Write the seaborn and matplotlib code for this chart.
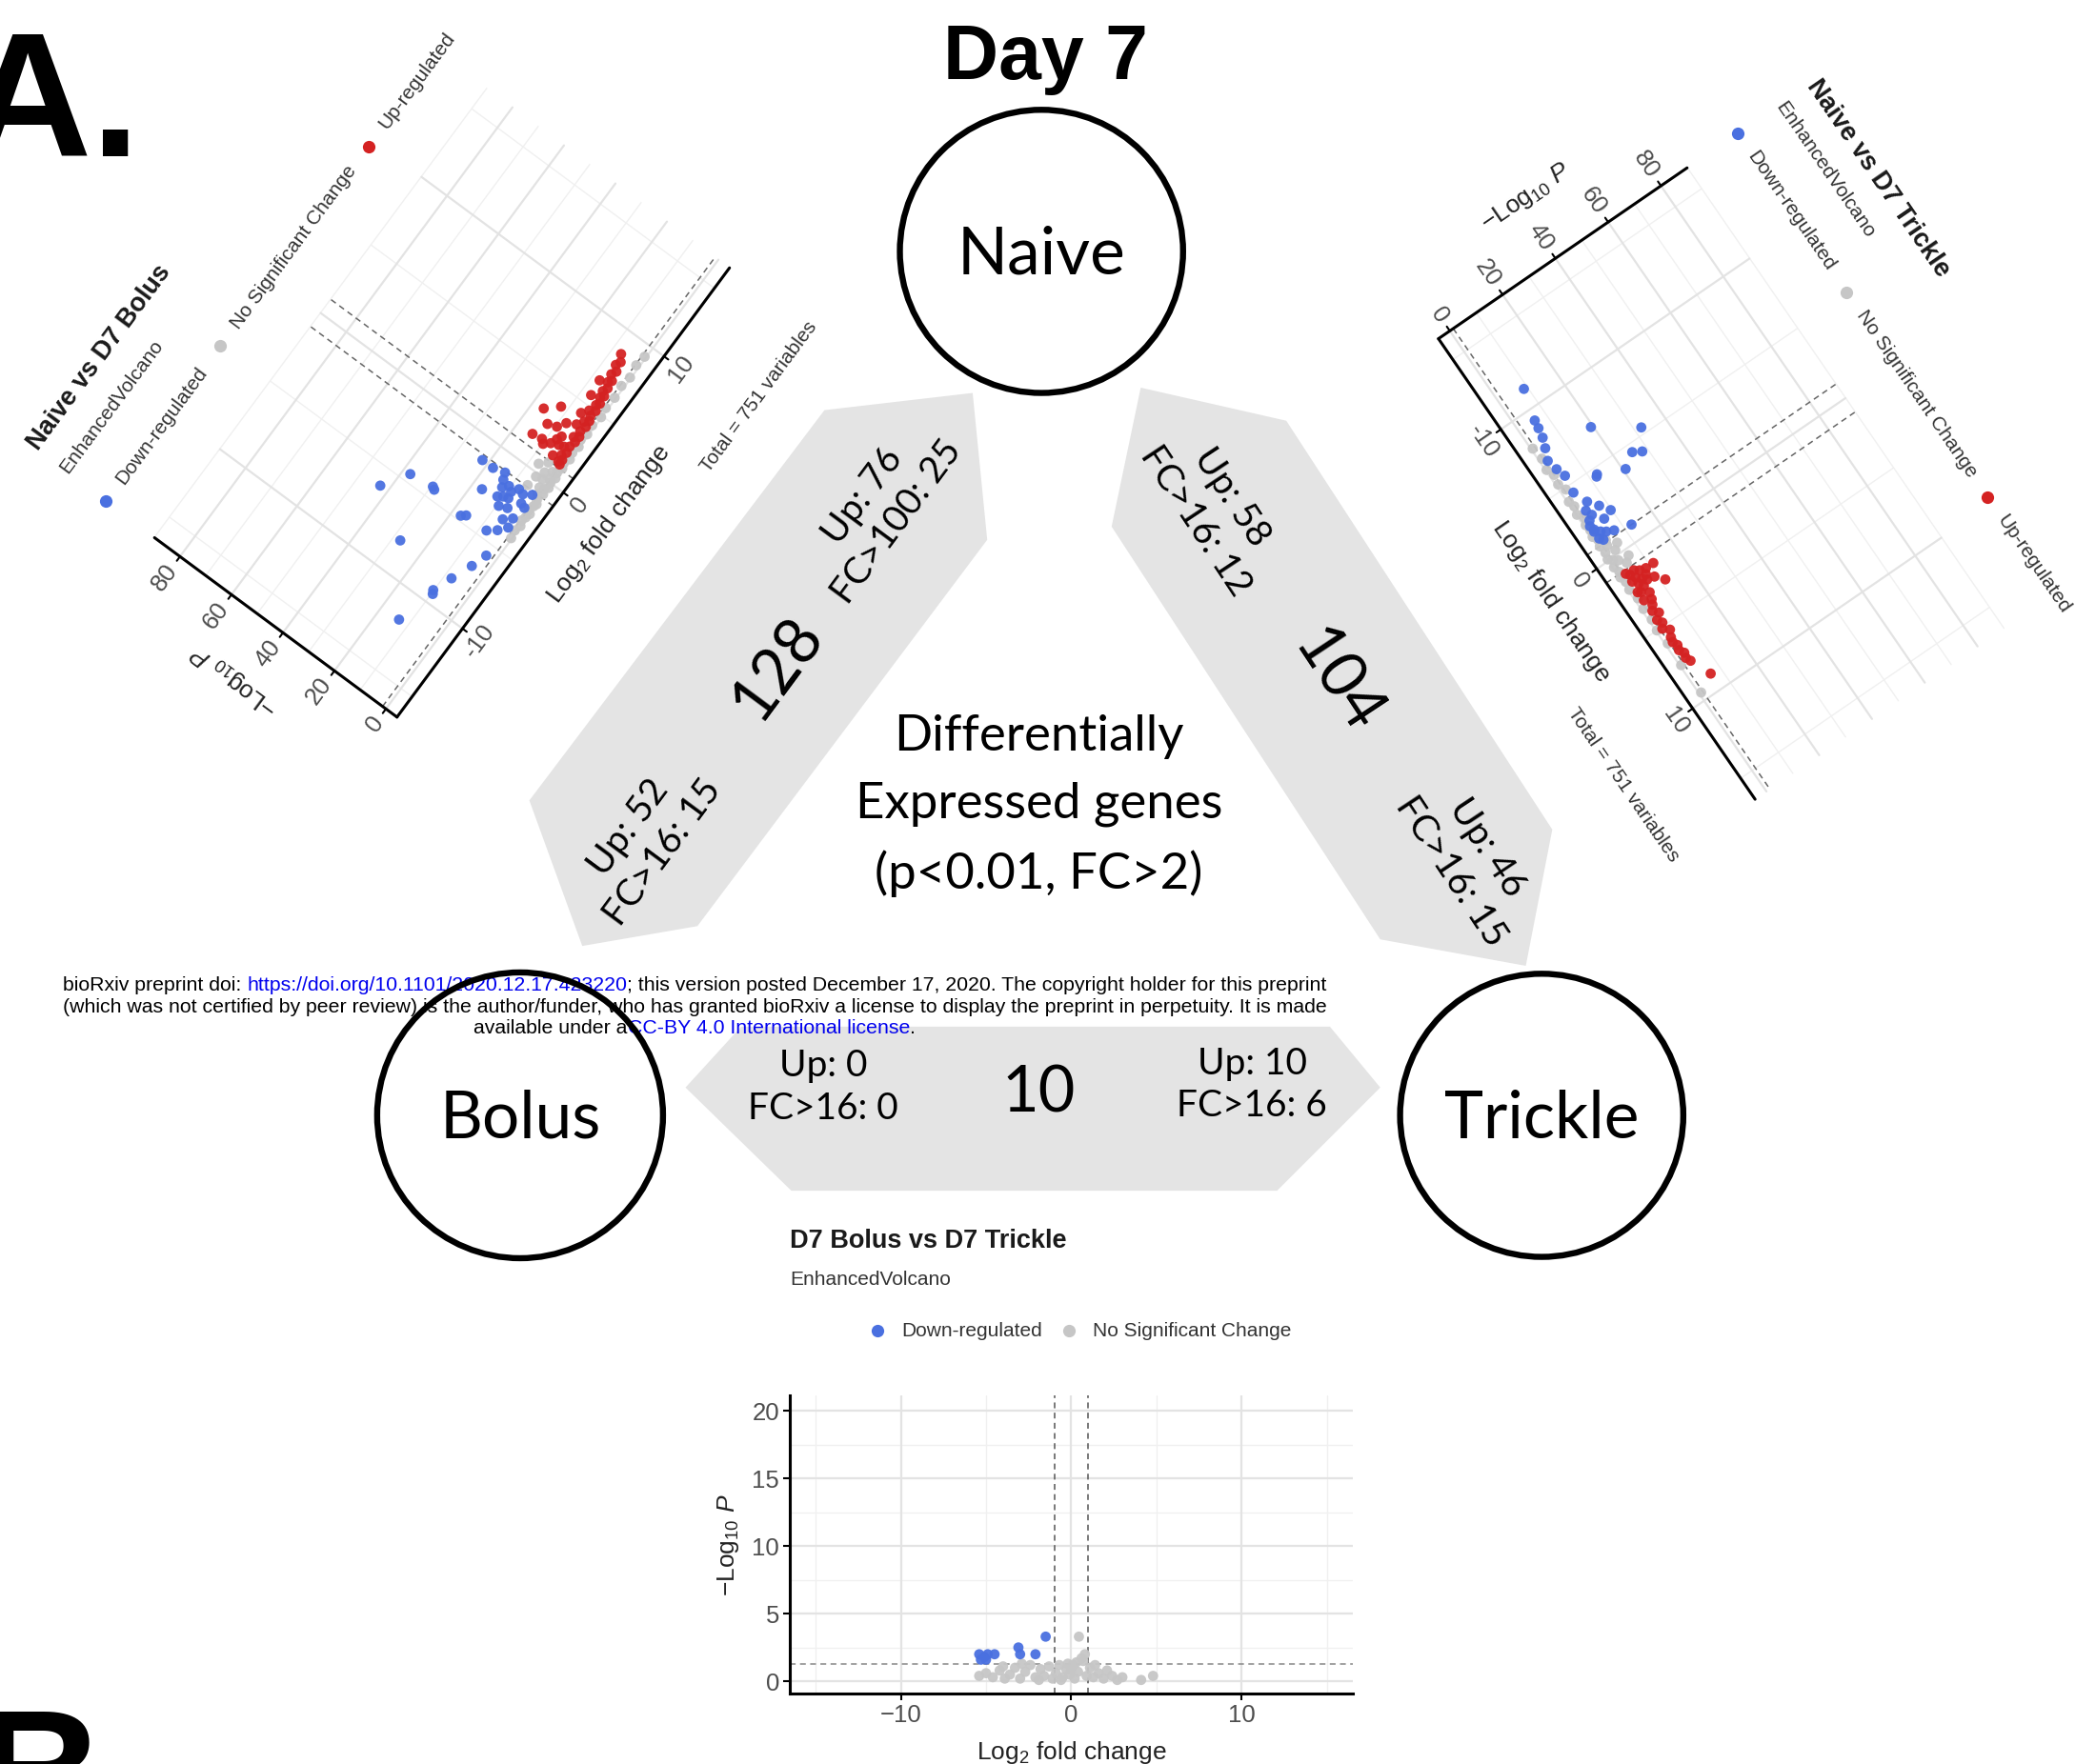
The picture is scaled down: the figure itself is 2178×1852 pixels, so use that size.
import numpy as np
import pandas as pd
import matplotlib
matplotlib.use("Agg")
import matplotlib.pyplot as plt
import seaborn as sns
from matplotlib.patches import Polygon, Circle
from matplotlib.transforms import Affine2D

# ---------------- data ----------------
groups = ["No Significant Change", "Down-regulated", "Up-regulated"]

# Naive vs D7 Bolus
tl_down_x = [-6.1, -4.5, -4.4, -4.3, -8.0, -11.8, -9.4, -9.2, -8.0, -6.7, -5.7, -4.5, -4.1, -4.7, -4.5,
             -2.7, -1.3, -1.3, -2.7, -2.2, -1.4, -1.6, -1.9, -2.3, -1.5, -2.0, -3.0, -1.2, -2.5, -1.8,
             -3.4, -1.1, -1.5, -2.9, -3.6, -2.1]
tl_down_y = [42.9, 37.5, 28.6, 29.5, 27.7, 13.3, 9.6, 10.2, 7.8, 5.0, 3.3, 7.9, 5.2, 17.1, 15.8,
             16.7, 22.0, 17.9, 6.8, 8.4, 7.4, 10.5, 12.0, 10.0, 5.5, 4.2, 3.5, 3.0, 11.5, 8.9,
             5.9, 14.0, 13.1, 9.4, 3.0, 2.6]
tl_up_x = [8.6, 8.2, 7.9, 7.6, 7.3, 7.0, 6.8, 6.5, 6.2, 6.0, 5.8, 5.5, 5.3, 5.0, 4.8, 4.6, 4.3, 4.1,
           3.9, 3.7, 3.5, 3.3, 4.0, 2.7, 1.7, 3.2, 3.0, 2.8, 2.6, 2.4, 2.2, 2.0, 1.9, 1.7, 1.5, 1.4,
           1.3, 1.2, 2.9, 2.3, 1.6, 1.8, 2.1, 3.4, 4.4, 5.6, 6.6]
tl_up_y = [6.9, 5.5, 6.2, 4.8, 5.6, 4.2, 5.0, 3.9, 4.6, 3.3, 4.1, 3.0, 3.7, 2.7, 4.4, 3.1, 2.4, 3.6,
           2.2, 5.0, 2.8, 16.2, 12.2, 12.4, 14.3, 2.0, 3.4, 2.1, 6.5, 2.6, 4.0, 2.2, 8.0, 3.1, 2.0, 5.2,
           2.7, 1.8, 9.5, 7.2, 9.8, 11.0, 5.6, 7.8, 6.0, 6.8, 7.4]
tl_ns_x = [-4.0, -3.5, -3.1, -2.8, -2.5, -2.2, -2.0, -1.7, -1.5, -1.3, -1.0, -0.8, -0.6, -0.5, -0.3,
           -0.1, 0.0, 0.2, 0.3, 0.4, 0.6, 0.7, 0.9, 1.1, 1.4, 1.8, 2.2, 2.7, 3.1, 3.6, 4.2, 4.9, 5.5,
           6.3, 7.1, 7.8, 8.6, 9.3, -0.9, 0.5, -0.2]
tl_ns_y = [0.3, 0.8, 0.2, 1.0, 0.5, 0.1, 1.2, 0.6, 0.2, 0.9, 1.8, 0.4, 2.6, 1.1, 0.2,
           3.4, 0.7, 1.5, 4.1, 0.3, 2.2, 0.9, 5.0, 0.4, 1.0, 0.2, 0.8, 0.3, 1.1, 0.5, 0.9, 0.2, 0.7,
           0.4, 0.9, 0.3, 1.0, 0.5, 6.0, 7.2, 5.5]

# Naive vs D7 Trickle
tr_down_x = [-11.2, -9.3, -8.8, -8.2, -7.6, -6.9, -7.1, -5.4, -4.5, -4.2, -3.9, -4.5, -4.6, -4.5, -3.2,
             -2.4, -1.0, -1.9, -1.2, -3.6, -2.8, -2.2, -1.5, -1.3, -2.6, -1.7, -3.0, -5.6, -6.2, -2.0,
             -1.4, -2.3]
tr_down_y = [8.8, 6.0, 5.6, 5.0, 3.8, 2.2, 19.3, 32.2, 25.5, 28.2, 20.8, 12.0, 12.5, 3.2, 3.2,
             9.7, 12.5, 1.6, 2.6, 5.1, 4.0, 6.5, 4.8, 7.0, 2.4, 3.3, 7.5, 4.0, 3.0, 2.0,
             1.7, 1.5]
tr_up_x = [1.6, 2.8, 2.1, 3.6, 5.8, 7.0, 8.9, 1.3, 1.5, 1.7, 1.9, 2.0, 2.2, 2.4, 1.4, 1.8, 2.6, 2.9,
           3.1, 3.3, 3.9, 4.2, 4.5, 4.8, 5.1, 5.4, 6.1, 6.4, 6.7, 7.3, 7.6, 1.2, 2.3, 1.6, 2.5]
tr_up_y = [11.3, 11.5, 3.9, 3.7, 2.7, 3.4, 6.5, 5.0, 6.5, 4.2, 7.4, 5.6, 6.8, 4.8, 3.2, 2.6, 3.0, 5.2,
           2.3, 4.5, 2.6, 4.0, 2.2, 3.1, 2.0, 3.8, 2.3, 3.0, 2.5, 2.9, 3.6, 2.3, 9.2, 8.5, 2.1]
tr_ns_x = [-8.0, -7.2, -6.5, -6.0, -5.4, -4.9, -4.2, -3.8, -3.3, -2.9, -2.5, -2.1, -1.7, -1.4, -1.0,
           -0.8, -0.5, -0.3, -0.1, 0.1, 0.3, 0.5, 0.7, 0.9, 1.2, 1.6, 2.1, 2.8, 3.5, 4.3, 5.0, -0.6,
           0.4, -1.1, 6.0, 7.5, 9.5]
tr_ns_y = [0.5, 1.1, 0.3, 1.4, 0.7, 1.8, 0.4, 1.0, 0.2, 1.6, 0.6, 0.9, 0.3, 1.2, 0.5,
           2.5, 0.8, 3.8, 0.2, 1.5, 2.8, 0.4, 4.5, 1.0, 0.3, 0.9, 0.4, 1.1, 0.6, 0.9, 0.3, 5.6,
           6.3, 3.1, 0.8, 0.4, 0.7]

# D7 Bolus vs D7 Trickle
bt_down_x = [-5.4, -5.3, -5.1, -5.0, -4.9, -4.5, -3.1, -3.0, -2.1, -1.5]
bt_down_y = [2.0, 1.6, 1.8, 1.6, 2.0, 2.0, 2.5, 2.0, 2.0, 3.3]
bt_ns_x = [0.45, 0.8, 0.6, 0.7, 4.1, 4.8, -5.4, -5.0, -4.6, -4.2, -3.9, -3.6, -3.3, -3.0, -2.7, -2.4,
           -2.1, -1.8, -1.6, -1.3, -1.1, -0.9, -0.7, -0.5, -0.3, -0.1, 0.1, 0.2, 0.4, 0.9, 1.1, 1.3,
           1.6, 1.9, 2.1, 2.4, 2.7, 3.0, -0.2, 0.0, -1.9, -4.0, -2.9, 0.3, 1.4, -0.6]
bt_ns_y = [3.3, 2.0, 1.7, 1.5, 0.1, 0.4, 0.4, 0.6, 0.3, 0.8, 0.2, 0.5, 1.0, 0.2, 0.7, 1.2,
           0.3, 0.9, 0.4, 1.1, 0.2, 0.6, 1.2, 0.3, 0.9, 0.5, 1.2, 0.2, 0.7, 0.4, 1.0, 0.3,
           0.6, 0.2, 0.8, 0.4, 0.1, 0.3, 1.3, 0.9, 0.1, 1.1, 1.3, 1.4, 1.2, 0.1]

x_major = [-10, 0, 10]
x_minor = [-15, -5, 5, 15]
top_y_major = [0, 20, 40, 60, 80]
top_y_minor = [10, 30, 50, 70, 90]
bot_y_major = [0, 5, 10, 15, 20]
bot_y_minor = [2.5, 7.5, 12.5, 17.5]

band_labels = {
    "left_top": "Up: 76\nFC>100: 25", "left_mid": "128", "left_bot": "Up: 52\nFC>16: 15",
    "right_top": "Up: 58\nFC>16: 12", "right_mid": "104", "right_bot": "Up: 46\nFC>16: 15",
    "bot_left": "Up: 0\nFC>16: 0", "bot_mid": "10", "bot_right": "Up: 10\nFC>16: 6",
}


def make_df(dx, dy, nx, ny, ux=(), uy=()):
    return pd.DataFrame({
        "log2fc": list(nx) + list(dx) + list(ux),
        "nlog10p": list(ny) + list(dy) + list(uy),
        "group": [groups[0]] * len(nx) + [groups[1]] * len(dx) + [groups[2]] * len(ux),
    })


df_tl = make_df(tl_down_x, tl_down_y, tl_ns_x, tl_ns_y, tl_up_x, tl_up_y)
df_tr = make_df(tr_down_x, tr_down_y, tr_ns_x, tr_ns_y, tr_up_x, tr_up_y)
df_bt = make_df(bt_down_x, bt_down_y, bt_ns_x, bt_ns_y)

# ---------------- style ----------------
sns.set_theme(style="white")
plt.rcParams["font.family"] = ["Liberation Sans", "DejaVu Sans"]
plt.rcParams["mathtext.fontset"] = "custom"
plt.rcParams["mathtext.rm"] = "Liberation Sans"
plt.rcParams["mathtext.it"] = "Liberation Sans:italic"
plt.rcParams["mathtext.bf"] = "Liberation Sans:bold"

PAL = {"Down-regulated": "#4a70e0", "No Significant Change": "#c6c6c6", "Up-regulated": "#d42222"}
GRID_MAJ = "#e3e3e3"
GRID_MIN = "#f0f0f0"
TICK_COL = "#4d4d4d"
BAND = "#e4e4e4"
DIAG = ["Lato", "DejaVu Sans"]
TICK_FS = 18.5
LAB_FS = 19
TITLE_FS = 19.5
SUB_FS = 15

W, H = 2178, 1852
K = W / 1568.0
fig = plt.figure(figsize=(W / 100, H / 100), dpi=100)
ax0 = fig.add_axes([0, 0, 1, 1])
ax0.set_xlim(0, W)
ax0.set_ylim(0, H)
ax0.set_autoscale_on(False)
ax0.axis("off")


def M(x, y):
    return (x * K, H - y * K)


XMIN, XMAX = -16.5, 16.5
SX = 12.8          # px per log2FC unit (reference scale)
YMIN, YMAX = -4.3, 89.9
SY = 2.42


def header(local, theta, title, items):
    ax0.text(0, 342, title, transform=local, rotation=theta, rotation_mode="anchor",
             ha="left", va="center", fontsize=TITLE_FS, fontweight="bold", color="#1a1a1a", zorder=6)
    ax0.text(0, 313, "EnhancedVolcano", transform=local, rotation=theta, rotation_mode="anchor",
             ha="left", va="center", fontsize=SUB_FS, color="#333333", zorder=6)
    for a, lab in items:
        ax0.plot([a], [274], marker="o", ms=9.5, color=PAL[lab], mec="none", transform=local,
                 zorder=6, clip_on=False)
        ax0.text(a + 18, 274, lab, transform=local, rotation=theta, rotation_mode="anchor",
                 ha="left", va="center", fontsize=SUB_FS, color="#333333", zorder=6)


def rotated_volcano(df, corner, theta, title, items):
    cx, cy = M(*corner)
    local = Affine2D().scale(K).rotate_deg(theta).translate(cx, cy) + ax0.transData
    dtr = Affine2D().translate(-XMIN, -YMIN).scale(SX, SY) + local
    for xv in x_minor:
        ax0.plot([xv, xv], [YMIN, YMAX], transform=dtr, color=GRID_MIN, lw=1.0, zorder=2)
    for yv in top_y_minor:
        ax0.plot([XMIN, XMAX], [yv, yv], transform=dtr, color=GRID_MIN, lw=1.0, zorder=2)
    for xv in x_major:
        ax0.plot([xv, xv], [YMIN, YMAX], transform=dtr, color=GRID_MAJ, lw=1.6, zorder=2)
    for yv in top_y_major:
        ax0.plot([XMIN, XMAX], [yv, yv], transform=dtr, color=GRID_MAJ, lw=1.6, zorder=2)
    for xv in (-1, 1):
        ax0.plot([xv, xv], [YMIN, YMAX], transform=dtr, color="#666666", lw=1.1,
                 ls=(0, (4, 3)), zorder=3)
    ax0.plot([XMIN, XMAX], [1.3, 1.3], transform=dtr, color="#666666", lw=1.1,
             ls=(0, (4, 3)), zorder=3)
    sns.scatterplot(data=df, x="log2fc", y="nlog10p", hue="group", palette=PAL, s=60,
                    linewidth=0, alpha=0.95, legend=False, ax=ax0, transform=dtr, zorder=4)
    ax0.plot([XMIN, XMAX], [YMIN, YMIN], transform=dtr, color="black", lw=2.2, zorder=5)
    ax0.plot([XMIN, XMIN], [YMIN, YMAX], transform=dtr, color="black", lw=2.2, zorder=5)
    for xv in x_major:
        a = (xv - XMIN) * SX
        ax0.plot([a, a], [0, -4], transform=local, color="black", lw=1.5, zorder=5)
        ax0.text(a, -16, f"{xv}", transform=local, rotation=theta, rotation_mode="anchor",
                 ha="center", va="center", fontsize=TICK_FS, color=TICK_COL, zorder=6)
    for yv in top_y_major:
        b = (yv - YMIN) * SY
        ax0.plot([0, -4], [b, b], transform=local, color="black", lw=1.5, zorder=5)
        ax0.text(-9, b, f"{yv}", transform=local, rotation=theta, rotation_mode="anchor",
                 ha="right", va="center", fontsize=TICK_FS, color=TICK_COL, zorder=6)
    ax0.text(212, -42, r"Log$_2$ fold change", transform=local, rotation=theta,
             rotation_mode="anchor", ha="center", va="center", fontsize=LAB_FS, color="#222222", zorder=6)
    ax0.text(-50, 115, r"$-$Log$_{10}$ $\mathit{P}$", transform=local, rotation=theta + 90,
             rotation_mode="anchor", ha="center", va="center", fontsize=LAB_FS, color="#222222", zorder=6)
    ax0.text(426, -76, "Total = 751 variables", transform=local, rotation=theta,
             rotation_mode="anchor", ha="right", va="center", fontsize=15, color="#333333", zorder=6)
    header(local, theta, title, items)


legend3 = [(0, "Down-regulated"), (146, "No Significant Change"), (334, "Up-regulated")]
rotated_volcano(df_tl, (300, 542), 53.5, "Naive vs D7 Bolus", legend3)
rotated_volcano(df_tr, (1087, 256), -55.5, "Naive vs D7 Trickle", legend3)

# ---------------- bottom volcano (ordinary axes) ----------------
bl, bb = M(597, 1280)
br, btop = M(1022, 1055)
axb = fig.add_axes([bl / W, bb / H, (br - bl) / W, (btop - bb) / H])
axb.set_facecolor("white")
for xv in x_minor:
    axb.axvline(xv, color=GRID_MIN, lw=1.0, zorder=0)
for yv in bot_y_minor:
    axb.axhline(yv, color=GRID_MIN, lw=1.0, zorder=0)
for xv in x_major:
    axb.axvline(xv, color=GRID_MAJ, lw=1.6, zorder=0)
for yv in bot_y_major:
    axb.axhline(yv, color=GRID_MAJ, lw=1.6, zorder=0)
for xv in (-1, 1):
    axb.axvline(xv, color="#555555", lw=1.1, ls=(0, (4, 3)), zorder=1)
axb.axhline(1.3, color="#888888", lw=1.1, ls=(0, (4, 3)), zorder=1)
sns.scatterplot(data=df_bt, x="log2fc", y="nlog10p", hue="group", palette=PAL, s=60,
                linewidth=0, alpha=0.95, legend=False, ax=axb, zorder=3)
axb.set_xlim(XMIN, XMAX)
axb.set_ylim(-0.9, 21.1)
axb.set_xticks(x_major)
axb.set_yticks(bot_y_major)
for s in ("top", "right"):
    axb.spines[s].set_visible(False)
for s in ("left", "bottom"):
    axb.spines[s].set_color("black")
    axb.spines[s].set_linewidth(2.2)
axb.tick_params(axis="both", which="major", length=5, width=1.5, color="black",
                labelsize=TICK_FS, labelcolor=TICK_COL, pad=3, left=True, bottom=True)
axb.set_xlabel(r"Log$_2$ fold change", fontsize=LAB_FS, color="#222222", labelpad=9)
axb.set_ylabel(r"$-$Log$_{10}$ $\mathit{P}$", fontsize=LAB_FS, color="#222222", labelpad=8)
bx, by = M(597, 1280)
local_b = Affine2D().scale(K).translate(bx, by) + ax0.transData
header(local_b, 0, "D7 Bolus vs D7 Trickle", [(66, "Down-regulated"), (211, "No Significant Change")])

# ---------------- diagram ----------------
bands = [
    [(400, 605), (623, 310), (735, 297), (746, 408), (527, 700), (440, 715)],
    [(862, 293), (972, 318), (1173, 627), (1153, 730), (1043, 710), (840, 398)],
    [(518, 822), (560, 776), (1005, 776), (1043, 822), (965, 900), (598, 900)],
]
for pts in bands:
    ax0.add_patch(Polygon([M(*p) for p in pts], closed=True, facecolor=BAND,
                          edgecolor="none", zorder=1))

for (cx, cy, r, name) in [(787, 190, 107, "Naive"), (393, 843, 108, "Bolus"), (1165, 843, 107, "Trickle")]:
    ax0.add_patch(Circle(M(cx, cy), r * K, facecolor="white", edgecolor="none", zorder=6))
    ax0.add_patch(Circle(M(cx, cy), r * K, facecolor="none", edgecolor="black", lw=4.6, zorder=12))
    ax0.text(*M(cx, cy + 3), name, ha="center", va="center", fontsize=50, family=DIAG,
             color="black", zorder=7)

band_text = [
    ("left_top", 665, 385, 53.5, 28), ("left_mid", 588, 505, 53.5, 48), ("left_bot", 488, 635, 53.5, 28),
    ("right_top", 917, 385, -56.5, 28), ("right_mid", 1010, 515, -56.5, 48), ("right_bot", 1110, 650, -56.5, 28),
    ("bot_left", 622, 822, 0, 28), ("bot_mid", 785, 827, 0, 48), ("bot_right", 946, 820, 0, 28),
]
for key, x, y, rot, fs in band_text:
    ax0.text(*M(x, y), band_labels[key], rotation=rot, rotation_mode="anchor", ha="center",
             va="center", multialignment="center", linespacing=1.3, fontsize=fs, family=DIAG,
             color="black", zorder=7)

for txt, y in [("Differentially", 557), ("Expressed genes", 608), ("(p<0.01, FC>2)", 660)]:
    ax0.text(*M(785, y), txt, ha="center", va="center", fontsize=38, family=DIAG, color="black", zorder=7)

ax0.text(*M(790, 60), "Day 7", ha="center", va="baseline", fontsize=58, fontweight="bold",
         color="black", zorder=7)
ax0.text(*M(-28, 118), "A.", ha="left", va="baseline", fontsize=134, fontweight="bold",
         color="black", zorder=7)
ax0.text(*M(-18, 1386), "B", ha="left", va="baseline", fontsize=134, fontweight="bold",
         color="black", zorder=7)

# ---------------- preprint notice (under the circle outlines) ----------------
renderer = fig.canvas.get_renderer()
blue = "#0000ee"
lines = [
    [("bioRxiv preprint doi: ", "black"), ("https://doi.org/10.1101/2020.12.17.423220", blue),
     ("; this version posted December 17, 2020. The copyright holder for this preprint", "black")],
    [("(which was not certified by peer review) is the author/funder, who has granted bioRxiv a license "
      "to display the preprint in perpetuity. It is made", "black")],
    [("available under a", "black"), ("CC-BY 4.0 International license", blue), (".", "black")],
]
probe = ax0.text(0, 0, "".join(s for s, _ in lines[0]), fontsize=14)
fs_note = 14 * (960 * K) / probe.get_window_extent(renderer).width
probe.remove()
for parts, y in zip(lines, [745, 761, 777]):
    arts = [ax0.text(0, 0, s, color=c, fontsize=fs_note, ha="left", va="center", zorder=10)
            for s, c in parts]
    widths = [a.get_window_extent(renderer).width for a in arts]
    x0 = 525 * K - sum(widths) / 2
    yy = H - y * K
    for a, w in zip(arts, widths):
        a.set_position((x0, yy))
        x0 += w

fig.savefig("out.png", dpi=100)
